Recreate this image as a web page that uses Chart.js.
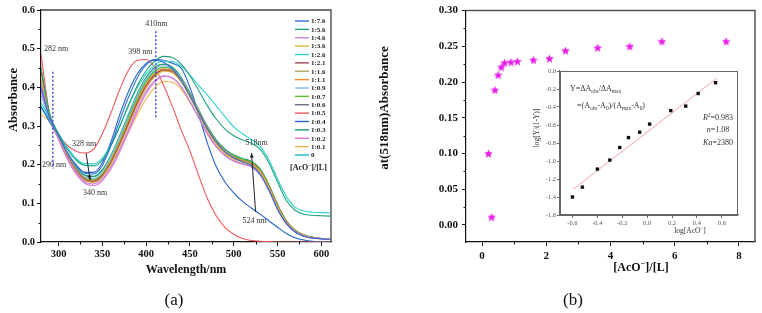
<!DOCTYPE html>
<html>
<head>
<meta charset="utf-8">
<script src="https://cdn.jsdelivr.net/npm/chart.js@4.4.1/dist/chart.umd.min.js"></script>
<style>
  html, body { margin: 0; padding: 0; background: #fff; width: 762px; height: 313px; overflow: hidden; }
  canvas { position: absolute; }
  #cA { left: 0; top: 0; }
  #cB { left: 372px; top: 0; }
  #cC { left: 525px; top: 60px; }
</style>
</head>
<body>
<canvas id="cA" width="372" height="313"></canvas>
<canvas id="cB" width="390" height="313"></canvas>
<canvas id="cC" width="222" height="180"></canvas>
<script>
const SERIF = "'Liberation Serif', 'DejaVu Serif', serif";

// ---- (a) UV-vis titration spectra ----
const wavelengths = [280,290,300,310,320,330,340,350,360,370,380,390,400,410,420,430,440,450,460,470,480,490,500,510,520,530,540,550,560,570,580,590,600,610];
const ratioLabels = ['1:7.6','1:5.6','1:4.6','1:3.6','1:2.6','1:2.1','1:1.6','1:1.1','1:0.9','1:0.7','1:0.6','1:0.5','1:0.4','1:0.3','1:0.2','1:0.1','0'];

const absR76 = [0.40,0.32,0.275,0.232,0.198,0.178,0.176,0.198,0.25,0.315,0.375,0.425,0.458,0.47,0.465,0.448,0.418,0.378,0.335,0.292,0.258,0.233,0.217,0.207,0.198,0.176,0.135,0.085,0.048,0.026,0.015,0.01,0.008,0.007];
const absR56 = [0.45,0.33,0.28,0.24,0.212,0.198,0.197,0.212,0.25,0.3,0.355,0.405,0.443,0.468,0.48,0.477,0.46,0.43,0.392,0.352,0.318,0.292,0.275,0.264,0.256,0.24,0.205,0.155,0.108,0.082,0.072,0.069,0.068,0.067];
const absR46 = [0.41,0.32,0.268,0.218,0.18,0.156,0.15,0.163,0.195,0.24,0.292,0.345,0.39,0.418,0.43,0.425,0.402,0.364,0.322,0.28,0.247,0.224,0.21,0.202,0.195,0.175,0.135,0.086,0.048,0.027,0.016,0.011,0.009,0.008];
const absR36 = [0.43,0.32,0.27,0.22,0.183,0.159,0.154,0.168,0.202,0.248,0.3,0.353,0.398,0.428,0.442,0.438,0.414,0.375,0.332,0.289,0.255,0.231,0.216,0.208,0.201,0.182,0.142,0.092,0.051,0.029,0.017,0.011,0.009,0.008];
const absR26 = [0.36,0.32,0.28,0.245,0.216,0.202,0.202,0.217,0.252,0.3,0.353,0.4,0.435,0.458,0.468,0.467,0.455,0.432,0.405,0.38,0.352,0.324,0.298,0.28,0.265,0.248,0.213,0.163,0.118,0.09,0.08,0.077,0.076,0.075];
const absR21 = [0.44,0.325,0.272,0.223,0.186,0.162,0.157,0.172,0.207,0.254,0.307,0.36,0.404,0.432,0.445,0.44,0.416,0.377,0.334,0.291,0.256,0.232,0.217,0.209,0.202,0.183,0.143,0.093,0.052,0.029,0.017,0.011,0.009,0.008];
const absR16 = [0.42,0.32,0.27,0.221,0.184,0.16,0.155,0.17,0.205,0.252,0.305,0.358,0.402,0.43,0.443,0.439,0.415,0.376,0.333,0.29,0.256,0.232,0.217,0.208,0.2,0.181,0.141,0.091,0.05,0.028,0.016,0.011,0.009,0.008];
const absR11 = [0.44,0.325,0.273,0.224,0.187,0.163,0.158,0.173,0.21,0.258,0.312,0.365,0.408,0.436,0.448,0.443,0.419,0.38,0.337,0.294,0.259,0.235,0.22,0.211,0.204,0.185,0.145,0.094,0.053,0.03,0.018,0.012,0.009,0.008];
const absR09 = [0.38,0.315,0.27,0.226,0.19,0.168,0.164,0.182,0.222,0.272,0.327,0.38,0.422,0.448,0.456,0.448,0.422,0.382,0.338,0.295,0.26,0.236,0.22,0.21,0.202,0.182,0.141,0.09,0.05,0.028,0.016,0.011,0.009,0.008];
const absR07 = [0.45,0.33,0.276,0.227,0.19,0.166,0.161,0.177,0.215,0.264,0.318,0.371,0.414,0.441,0.452,0.446,0.421,0.381,0.338,0.295,0.261,0.237,0.222,0.213,0.206,0.187,0.147,0.096,0.054,0.03,0.018,0.012,0.009,0.008];
const absR06 = [0.43,0.322,0.271,0.222,0.185,0.161,0.156,0.171,0.207,0.255,0.309,0.362,0.406,0.434,0.446,0.441,0.417,0.378,0.335,0.292,0.257,0.233,0.218,0.21,0.203,0.184,0.144,0.093,0.052,0.029,0.017,0.011,0.009,0.008];
const absR05 = [0.485,0.33,0.28,0.25,0.235,0.23,0.24,0.28,0.335,0.395,0.445,0.47,0.472,0.45,0.405,0.35,0.29,0.235,0.172,0.112,0.068,0.038,0.02,0.009,0.004,0.002,0.001,0,0,0,0,0,0,0];
const absR04 = [0.35,0.31,0.27,0.23,0.2,0.18,0.18,0.205,0.26,0.33,0.39,0.435,0.462,0.472,0.47,0.462,0.45,0.40,0.33,0.255,0.195,0.155,0.127,0.105,0.088,0.072,0.055,0.038,0.022,0.011,0.005,0.002,0.001,0];
const absR03 = [0.44,0.325,0.275,0.228,0.193,0.172,0.169,0.186,0.225,0.276,0.331,0.384,0.426,0.452,0.46,0.452,0.426,0.386,0.342,0.299,0.264,0.24,0.225,0.216,0.209,0.19,0.149,0.097,0.055,0.031,0.018,0.012,0.009,0.008];
const absR02 = [0.39,0.318,0.265,0.214,0.176,0.152,0.146,0.159,0.19,0.234,0.286,0.339,0.384,0.414,0.428,0.424,0.401,0.363,0.321,0.279,0.246,0.223,0.209,0.201,0.194,0.174,0.134,0.085,0.047,0.026,0.015,0.01,0.008,0.007];
const absR01 = [0.33,0.31,0.268,0.222,0.187,0.166,0.162,0.173,0.2,0.24,0.285,0.33,0.37,0.4,0.415,0.413,0.395,0.362,0.323,0.283,0.25,0.227,0.212,0.203,0.196,0.176,0.136,0.087,0.048,0.027,0.015,0.01,0.008,0.007];
const absR00 = [0.35,0.315,0.272,0.228,0.193,0.173,0.17,0.187,0.224,0.272,0.325,0.376,0.417,0.443,0.452,0.446,0.421,0.382,0.339,0.296,0.262,0.238,0.223,0.214,0.207,0.188,0.147,0.096,0.054,0.03,0.018,0.012,0.009,0.008];

const spectra = [absR76, absR56, absR46, absR36, absR26, absR21, absR16, absR11, absR09, absR07, absR06, absR05, absR04, absR03, absR02, absR01, absR00];
const lineColors = ['#2f6fd0','#1fa37f','#c685dd','#e0b441','#2cd0d0','#a34456','#b5a566','#f28a2c','#86b6e3','#5fbf2c','#6d6880','#f0585a','#2262cc','#1c9a6c','#e070d8','#f2b34a','#14b9c4'];

const aTicksX = [300, 350, 400, 450, 500, 550, 600];
const aMinorX = [325, 375, 425, 475, 525, 575];
const aTicksY = [0, 0.1, 0.2, 0.3, 0.4, 0.5, 0.6];
const aMinorY = [0.05, 0.15, 0.25, 0.35, 0.45, 0.55];

// ---- (b) absorbance at 518 nm vs ratio ----
const ratioX = [0.2, 0.3, 0.4, 0.5, 0.6, 0.7, 0.9, 1.1, 1.6, 2.1, 2.6, 3.6, 4.6, 5.6, 7.6];
const abs518 = [0.100, 0.011, 0.189, 0.210, 0.221, 0.227, 0.228, 0.229, 0.231, 0.233, 0.244, 0.248, 0.250, 0.257, 0.257];
const bTicksX = [0, 2, 4, 6, 8];
const bMinorX = [1, 3, 5, 7];
const bTicksY = [0, 0.05, 0.10, 0.15, 0.20, 0.25, 0.30];
const bMinorY = [0.025, 0.075, 0.125, 0.175, 0.225, 0.275];

// ---- inset: Hill plot ----
const logAcO = [-0.60, -0.52, -0.40, -0.30, -0.22, -0.15, -0.06, 0.02, 0.19, 0.31, 0.41, 0.55];
const logYratio = [-1.40, -1.29, -1.09, -0.99, -0.85, -0.74, -0.68, -0.59, -0.44, -0.39, -0.25, -0.13];
const fitX = [-0.59, 0.56];
const fitY = [-1.31, -0.08];
const cTicksX = [-0.6, -0.4, -0.2, 0, 0.2, 0.4, 0.6];
const cTicksY = [0, -0.2, -0.4, -0.6, -0.8, -1.0, -1.2, -1.4, -1.6];

// ---------- helpers ----------
function fixedTicks(list) {
  return scale => { scale.ticks = list.map(v => ({ value: v })); };
}

function richFont(style, size) {
  const small = /sub|sup/.test(style || '');
  return (/\bi\b/.test(style || '') ? 'italic ' : '') + (/\bb\b/.test(style || '') ? 'bold ' : '') +
    (small ? size * 0.68 : size).toFixed(1) + 'px ' + SERIF;
}

function drawRich(ctx, parts, x, y, size, align) {
  let w = 0;
  parts.forEach(([t, s]) => { ctx.font = richFont(s, size); w += ctx.measureText(t).width; });
  let cx = align === 'center' ? x - w / 2 : x;
  ctx.textAlign = 'left';
  ctx.textBaseline = 'middle';
  parts.forEach(([t, s]) => {
    ctx.font = richFont(s, size);
    const dy = /sub/.test(s || '') ? size * 0.3 : /sup/.test(s || '') ? -size * 0.32 : 0;
    ctx.fillText(t, cx, y + dy);
    cx += ctx.measureText(t).width;
  });
}

function vText(ctx, text, x, y, font) {
  ctx.save();
  ctx.translate(x, y);
  ctx.rotate(-Math.PI / 2);
  ctx.font = font;
  ctx.textAlign = 'center';
  ctx.textBaseline = 'middle';
  ctx.fillText(text, 0, 0);
  ctx.restore();
}

function arrow(ctx, x0, y0, x1, y1) {
  const ang = Math.atan2(y1 - y0, x1 - x0);
  ctx.beginPath();
  ctx.moveTo(x0, y0);
  ctx.lineTo(x1, y1);
  ctx.stroke();
  ctx.beginPath();
  ctx.moveTo(x1, y1);
  ctx.lineTo(x1 - 5 * Math.cos(ang - 0.4), y1 - 5 * Math.sin(ang - 0.4));
  ctx.lineTo(x1 - 5 * Math.cos(ang + 0.4), y1 - 5 * Math.sin(ang + 0.4));
  ctx.closePath();
  ctx.fill();
}

function frame(color, width) {
  return {
    id: 'frame',
    afterDraw(chart) {
      const { ctx, chartArea: a } = chart;
      ctx.save();
      ctx.strokeStyle = color;
      ctx.lineWidth = width;
      ctx.beginPath();
      ctx.moveTo(a.left, a.top);
      ctx.lineTo(a.right, a.top);
      ctx.lineTo(a.right, a.bottom);
      ctx.stroke();
      ctx.restore();
    }
  };
}

function minorTicks(xs, ys, len, color) {
  return {
    id: 'minorTicks',
    afterDraw(chart) {
      const { ctx, chartArea: a, scales } = chart;
      ctx.save();
      ctx.strokeStyle = color;
      ctx.lineWidth = 1;
      ctx.beginPath();
      xs.forEach(v => {
        const px = Math.round(scales.x.getPixelForValue(v)) + 0.5;
        ctx.moveTo(px, a.bottom);
        ctx.lineTo(px, a.bottom + len);
      });
      ys.forEach(v => {
        const py = Math.round(scales.y.getPixelForValue(v)) + 0.5;
        ctx.moveTo(a.left, py);
        ctx.lineTo(a.left - len, py);
      });
      ctx.stroke();
      ctx.restore();
    }
  };
}

function axisStyle(fontSize, bold, color, tickLen) {
  return {
    ticks: { font: { family: SERIF, size: fontSize, weight: bold ? 'bold' : 'normal' }, color: color, padding: 2, maxRotation: 0, minRotation: 0, autoSkip: false },
    grid: { drawOnChartArea: false, drawTicks: true, tickLength: tickLen, color: color, lineWidth: 1 },
    border: { color: color, width: 1.2 }
  };
}

function starImage(size, color) {
  const c = document.createElement('canvas');
  c.width = c.height = size;
  const g = c.getContext('2d');
  const R = size / 2, r = R * 0.45;
  g.fillStyle = color;
  g.beginPath();
  for (let k = 0; k < 10; k++) {
    const ang = -Math.PI / 2 + k * Math.PI / 5;
    const rad = k % 2 ? r : R;
    g.lineTo(R + rad * Math.cos(ang), R + 0.5 + rad * Math.sin(ang));
  }
  g.closePath();
  g.fill();
  return c;
}

// ---------- (a) ----------
const aDecor = {
  id: 'aDecor',
  afterDatasetsDraw(chart) {
    const { ctx, scales: { x, y } } = chart;
    const X = v => x.getPixelForValue(v), Y = v => y.getPixelForValue(v);
    ctx.save();
    ctx.strokeStyle = '#3344dd';
    ctx.lineWidth = 1.4;
    ctx.setLineDash([2, 2]);
    [[293.5, 0.44, 0.19], [411, 0.545, 0.32]].forEach(([w, a0, a1]) => {
      ctx.beginPath();
      ctx.moveTo(X(w), Y(a0));
      ctx.lineTo(X(w), Y(a1));
      ctx.stroke();
    });
    ctx.setLineDash([]);
    ctx.strokeStyle = '#222';
    ctx.fillStyle = '#222';
    ctx.lineWidth = 1;
    arrow(ctx, X(331.5), Y(0.230), X(336), Y(0.160));
    arrow(ctx, X(524.9), Y(0.078), X(520.3), Y(0.230));

    ctx.fillStyle = '#333';
    ctx.font = '8px ' + SERIF;
    ctx.textAlign = 'left';
    ctx.textBaseline = 'middle';
    [['282 nm', 283.4, 0.499], ['410nm', 399, 0.564], ['398 nm', 379.5, 0.491], ['328 nm', 315.5, 0.253],
     ['290 nm', 281, 0.199], ['340 nm', 328, 0.127], ['518nm', 513.4, 0.256], ['524 nm', 510, 0.054]]
      .forEach(([t, w, a]) => ctx.fillText(t, X(w), Y(a)));

    // legend
    ratioLabels.forEach((lab, i) => {
      const ly = 21 + i * 8.375;
      ctx.strokeStyle = lineColors[i];
      ctx.lineWidth = 1.4;
      ctx.beginPath();
      ctx.moveTo(295, ly);
      ctx.lineTo(309, ly);
      ctx.stroke();
      ctx.fillStyle = '#222';
      ctx.font = 'bold 7px ' + SERIF;
      ctx.fillText(lab, 311, ly + 0.5);
    });
    ctx.fillStyle = '#222';
    drawRich(ctx, [['[AcO', 'b'], ['\u2212', 'b sup'], [']/[L]', 'b']], 290, 168, 8, 'left');
    ctx.restore();
  },
  afterDraw(chart) {
    const { ctx } = chart;
    ctx.save();
    ctx.fillStyle = '#111';
    vText(ctx, 'Absorbance', 14, 100, 'bold 12.5px ' + SERIF);
    ctx.font = '17px ' + SERIF;
    ctx.textAlign = 'center';
    ctx.textBaseline = 'middle';
    ctx.fillText('(a)', 174, 301);
    ctx.restore();
  }
};

const aX = axisStyle(10.5, true, '#111', 4);
const aY = axisStyle(10.5, true, '#111', 4);

new Chart(document.getElementById('cA'), {
  type: 'line',
  data: {
    datasets: spectra.map((ys, i) => ({
      label: ratioLabels[i],
      data: wavelengths.map((w, j) => ({ x: w, y: ys[j] })),
      borderColor: lineColors[i],
      borderWidth: 1.1,
      pointRadius: 0,
      fill: false,
      cubicInterpolationMode: 'monotone'
    }))
  },
  options: {
    responsive: false,
    animation: false,
    events: [],
    layout: { padding: { left: 0, right: 41, top: 10, bottom: 31 } },
    plugins: { legend: { display: false }, tooltip: { enabled: false } },
    scales: {
      x: Object.assign({}, aX, {
        type: 'linear', min: 280, max: 611,
        afterBuildTicks: fixedTicks(aTicksX),
        afterFit: s => { s.height = 40; },
        ticks: Object.assign({}, aX.ticks, { callback: v => String(v) }),
        title: { display: true, text: 'Wavelength/nm', color: '#111', font: { family: SERIF, size: 12, weight: 'bold' }, padding: { top: 0, bottom: 5 } }
      }),
      y: Object.assign({}, aY, {
        type: 'linear', min: 0, max: 0.6,
        afterBuildTicks: fixedTicks(aTicksY),
        afterFit: s => { s.width = 41; },
        ticks: Object.assign({}, aY.ticks, { callback: v => v.toFixed(1) })
      })
    }
  },
  plugins: [frame('#444', 1.3), minorTicks(aMinorX, aMinorY, 2.5, '#111'), aDecor]
});

// ---------- (b) ----------
const starImg = starImage(9, '#e81ee8');

const bDecor = {
  id: 'bDecor',
  afterDraw(chart) {
    const { ctx } = chart;
    ctx.save();
    ctx.fillStyle = '#111';
    vText(ctx, 'at(518nm)Absorbance', 13, 108, 'bold 13px ' + SERIF);
    drawRich(ctx, [['[AcO', 'b'], ['\u2212', 'b sup'], [']/[L]', 'b']], 269, 268, 12, 'center');
    ctx.font = '17px ' + SERIF;
    ctx.textAlign = 'center';
    ctx.textBaseline = 'middle';
    ctx.fillText('(b)', 201, 301);
    ctx.restore();
  }
};

const bX = axisStyle(11, true, '#111', 4);
const bY = axisStyle(11, true, '#111', 4);

new Chart(document.getElementById('cB'), {
  type: 'scatter',
  data: {
    datasets: [{
      data: ratioX.map((x, i) => ({ x: x, y: abs518[i] })),
      pointStyle: starImg,
      pointRadius: 5
    }]
  },
  options: {
    responsive: false,
    animation: false,
    events: [],
    layout: { padding: { left: 0, right: 7, top: 10, bottom: 31 } },
    plugins: { legend: { display: false }, tooltip: { enabled: false } },
    scales: {
      x: Object.assign({}, bX, {
        type: 'linear', min: -0.5, max: 8.5,
        afterBuildTicks: fixedTicks(bTicksX),
        afterFit: s => { s.height = 40; },
        ticks: Object.assign({}, bX.ticks, { callback: v => String(v), padding: 4 })
      }),
      y: Object.assign({}, bY, {
        type: 'linear', min: -0.024, max: 0.3,
        afterBuildTicks: fixedTicks(bTicksY),
        afterFit: s => { s.width = 94; },
        ticks: Object.assign({}, bY.ticks, { callback: v => v.toFixed(2), padding: 4 })
      })
    }
  },
  plugins: [frame('#555', 1.5), minorTicks(bMinorX, bMinorY, 2.5, '#111'), bDecor]
});

// ---------- inset ----------
const cDecor = {
  id: 'cDecor',
  afterDraw(chart) {
    const { ctx, chartArea: a } = chart;
    ctx.save();
    ctx.strokeStyle = '#666';
    ctx.lineWidth = 1;
    ctx.strokeRect(a.left + 0.5, a.top + 0.5, a.right - a.left - 1, a.bottom - a.top);
    ctx.fillStyle = '#333';
    drawRich(ctx, [['Y=\u0394A'], ['obs', 'sub'], ['/\u0394A'], ['max', 'sub']], 45, 29, 8, 'left');
    drawRich(ctx, [['=(A'], ['obs', 'sub'], ['-A'], ['0', 'sub'], [')/(A'], ['max', 'sub'], ['-A'], ['0', 'sub'], [')']], 52, 46, 8, 'left');
    drawRich(ctx, [['R', 'i'], ['2', 'sup'], ['=0.983']], 193, 58, 8, 'center');
    drawRich(ctx, [['n', 'i'], ['=1.08']], 193, 70, 8, 'center');
    drawRich(ctx, [['Ka', 'i'], ['=2380']], 193, 83, 8, 'center');
    drawRich(ctx, [['log[AcO'], ['\u2212', 'sup'], [']']], 165, 171, 7.5, 'center');
    vText(ctx, 'log[Y/(1-Y)]', 12, 68, '7.5px ' + SERIF);
    ctx.restore();
  }
};

const cX = axisStyle(6.5, false, '#666', 3);
const cY = axisStyle(6.5, false, '#666', 3);

new Chart(document.getElementById('cC'), {
  type: 'scatter',
  data: {
    datasets: [
      {
        data: logAcO.map((x, i) => ({ x: x, y: logYratio[i] })),
        pointStyle: 'rect',
        pointRadius: 2.4,
        backgroundColor: '#111',
        borderColor: '#111',
        borderWidth: 0
      },
      {
        data: fitX.map((x, i) => ({ x: x, y: fitY[i] })),
        showLine: true,
        borderColor: '#f0a4a4',
        borderWidth: 1,
        pointRadius: 0
      }
    ]
  },
  options: {
    responsive: false,
    animation: false,
    events: [],
    layout: { padding: { left: 0, right: 9, top: 11, bottom: 0 } },
    plugins: { legend: { display: false }, tooltip: { enabled: false } },
    scales: {
      x: Object.assign({}, cX, {
        type: 'linear', min: -0.7, max: 0.73,
        afterBuildTicks: fixedTicks(cTicksX),
        afterFit: s => { s.height = 25; },
        ticks: Object.assign({}, cX.ticks, { callback: v => v.toFixed(1), color: '#555', padding: 1 })
      }),
      y: Object.assign({}, cY, {
        type: 'linear', min: -1.6, max: 0,
        afterBuildTicks: fixedTicks(cTicksY),
        afterFit: s => { s.width = 35; },
        ticks: Object.assign({}, cY.ticks, { callback: v => v.toFixed(1), color: '#555', padding: 1 })
      })
    }
  },
  plugins: [cDecor]
});
</script>
</body>
</html>
